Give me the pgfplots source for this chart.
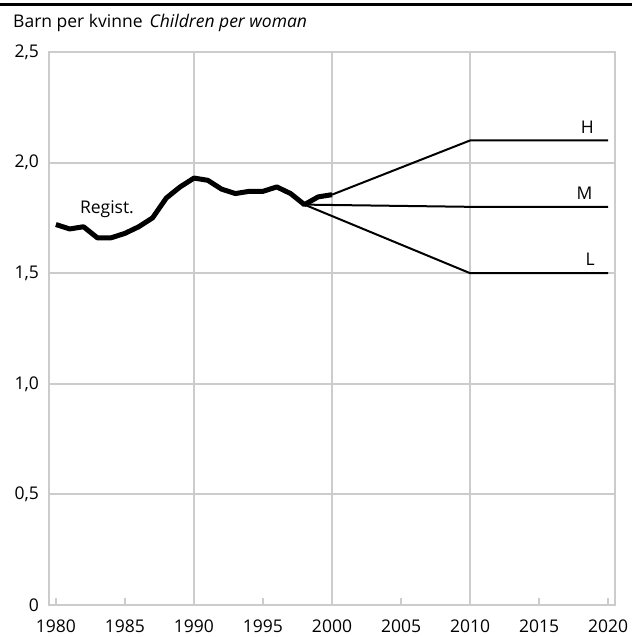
\documentclass[border=0pt]{standalone}
\usepackage{pgfplots}
\pgfplotsset{compat=1.18}
\usepackage{fontspec}
\setmainfont{Open Sans}
\definecolor{gridgray}{HTML}{CCCCCC}
\begin{document}
\fontsize{17.5bp}{21bp}\selectfont
\begin{tikzpicture}[x=1bp,y=1bp]
\useasboundingbox (0,0) rectangle (632,637);
\draw[line width=3bp] (0,632) -- (632,632);
\node[anchor=base west, inner sep=0] at (13,609) {Barn per kvinne\hspace{7bp}\textit{Children per woman}};
\begin{axis}[
  at={(49bp,32bp)}, anchor=south west,
  scale only axis, width=566bp, height=553bp,
  xmin=1979.5, xmax=2020.5, ymin=0, ymax=2.5,
  clip=false,
  /pgf/number format/assume math mode=true,
  xtick={1980,1985,1990,1995,2000,2005,2010,2015,2020},
  xticklabels={1980,1985,1990,1995,2000,2005,2010,2015,2020},
  ytick={0,0.5,1,1.5,2,2.5},
  yticklabels={0,{0,5},{1,0},{1,5},{2,0},{2,5}},
  tick align=inside, xtick pos=bottom, ytick pos=left,
  major tick length=7bp,
  tick style={gridgray, line width=2bp},
  ymajorgrids,
  grid style={gridgray, line width=2bp},
  extra x ticks={1990,2000,2010},
  extra x tick labels={},
  extra x tick style={xmajorgrids=true},
  axis line style={gridgray, line width=2bp},
  yticklabel style={xshift=-4bp},
  xticklabel style={yshift=-9bp},
]
\addplot[black, line width=5bp, line join=round] coordinates {
(1980,1.72)(1981,1.70)(1982,1.71)(1983,1.66)(1984,1.66)(1985,1.68)(1986,1.71)
(1987,1.75)(1988,1.84)(1989,1.89)(1990,1.93)(1991,1.92)(1992,1.88)(1993,1.86)
(1994,1.87)(1995,1.87)(1996,1.89)(1997,1.86)(1998,1.81)(1999,1.845)(2000,1.855)};
\addplot[black, line width=2bp] coordinates {(2000,1.855)(2010,2.10)(2020,2.10)};
\addplot[black, line width=2bp] coordinates {(1998,1.81)(2010,1.80)(2020,1.80)};
\addplot[black, line width=2bp] coordinates {(1998,1.81)(2010,1.50)(2020,1.50)};
\node at (axis cs:1983.7,1.79) {Regist.};
\node at (axis cs:2018.5,2.16) {H};
\node at (axis cs:2018.3,1.86) {M};
\node at (axis cs:2018.7,1.565) {L};
\end{axis}
\end{tikzpicture}
\end{document}
